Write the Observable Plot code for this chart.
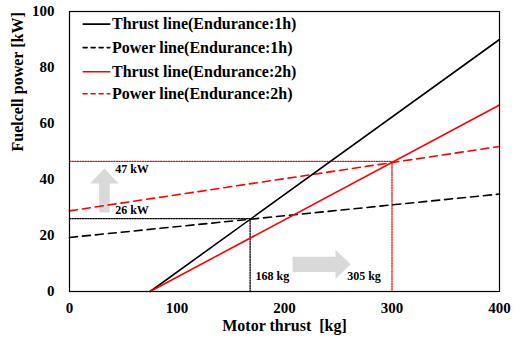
<!DOCTYPE html>
<html>
<head>
<meta charset="utf-8">
<script src="https://cdn.jsdelivr.net/npm/d3@7"></script>
<script src="https://cdn.jsdelivr.net/npm/@observablehq/plot@0.6"></script>
<style>
  html, body { margin: 0; padding: 0; background: #fff; }
  #chart svg { display: block; }
</style>
</head>
<body>
<div id="chart"></div>
<script>
// ---- data ----
const seriesNames = [
  "Thrust line(Endurance:1h)",
  "Power line(Endurance:1h)",
  "Thrust line(Endurance:2h)",
  "Power line(Endurance:2h)"
];
const thrust1hX = [75, 400], thrust1hY = [0, 90];
const power1hX = [0, 400],   power1hY = [19.3, 34.8];
const thrust2hX = [75, 400], thrust2hY = [0, 66.6];
const power2hX = [0, 400],   power2hY = [28.8, 51.8];

const markerThrust = [168, 300];     // dotted vertical markers (kg)
const markerPower = [26, 46.5];      // dotted horizontal markers (kW)
const markerLabelsPower = ["26 kW", "47 kW"];
const markerLabelsThrust = ["168 kg", "305 kg"];

const xTicks = [0, 100, 200, 300, 400];
const yTicks = [0, 20, 40, 60, 80, 100];

const RED = "#ff0000", BLACK = "#000000", GRAY = "#d9d9d9";
const FONT = "'Liberation Serif', 'Times New Roman', serif";

const toPts = (xs, ys) => xs.map((x, i) => ({x, y: ys[i]}));

// block arrows (data units)
function upArrow(cx, y0, y1, yh, sw, hw) {
  return [[cx - sw, y0], [cx - sw, yh], [cx - hw, yh], [cx, y1], [cx + hw, yh], [cx + sw, yh], [cx + sw, y0], [cx - sw, y0]]
    .map(([x, y]) => ({x, y}));
}
function rightArrow(cy, x0, x1, xh, sh, hh) {
  return [[x0, cy - sh], [xh, cy - sh], [xh, cy - hh], [x1, cy], [xh, cy + hh], [xh, cy + sh], [x0, cy + sh], [x0, cy - sh]]
    .map(([x, y]) => ({x, y}));
}
const arrowUp = upArrow(32.5, 28.2, 43.9, 38.6, 4.9, 13.3);
const arrowRight = rightArrow(9.7, 207.5, 261.5, 247.5, 2.7, 5.2);

// legend rows
const legendY = [95.5, 87.1, 78.5, 70.6];
const legendStroke = [BLACK, BLACK, RED, RED];
const legendDash = [null, "4,4", null, "4,4"];

const marks = [
  Plot.line(arrowRight, {x: "x", y: "y", fill: GRAY, stroke: "none"}),
  Plot.line(arrowUp, {x: "x", y: "y", fill: GRAY, stroke: "none"}),
  // dotted markers
  Plot.line([{x: 0, y: markerPower[0]}, {x: markerThrust[0], y: markerPower[0]}, {x: markerThrust[0], y: 0}],
    {x: "x", y: "y", stroke: BLACK, strokeWidth: 1.3, strokeDasharray: "1.3,1.3"}),
  Plot.line([{x: 0, y: markerPower[1]}, {x: markerThrust[1], y: markerPower[1]}, {x: markerThrust[1], y: 0}],
    {x: "x", y: "y", stroke: RED, strokeWidth: 1.3, strokeDasharray: "1.3,1.3"}),
  // series
  Plot.line(toPts(power1hX, power1hY), {x: "x", y: "y", stroke: BLACK, strokeWidth: 1.6, strokeDasharray: "8,5"}),
  Plot.line(toPts(power2hX, power2hY), {x: "x", y: "y", stroke: RED, strokeWidth: 1.6, strokeDasharray: "8,5"}),
  Plot.line(toPts(thrust1hX, thrust1hY), {x: "x", y: "y", stroke: BLACK, strokeWidth: 1.6}),
  Plot.line(toPts(thrust2hX, thrust2hY), {x: "x", y: "y", stroke: RED, strokeWidth: 1.6}),
  // marker labels
  Plot.text(markerLabelsPower, {x: () => 42.5, y: (d, i) => markerPower[i] + (i === 0 ? 3 : -2.9),
    text: d => d, textAnchor: "start", fontSize: 12, fontWeight: "bold", fill: BLACK}),
  Plot.text(markerLabelsThrust, {x: (d, i) => (i === 0 ? 173 : 258.3), y: () => 5.6,
    text: d => d, textAnchor: "start", fontSize: 12, fontWeight: "bold", fill: BLACK}),
  // legend
  ...seriesNames.map((name, i) => Plot.line([{x: 12.7, y: legendY[i]}, {x: 37.5, y: legendY[i]}],
    {x: "x", y: "y", stroke: legendStroke[i], strokeWidth: 1.6, strokeDasharray: legendDash[i] || undefined})),
  Plot.text(seriesNames, {x: () => 39.5, y: (d, i) => legendY[i], text: d => d,
    textAnchor: "start", fontSize: 16, fontWeight: "bold", fill: BLACK, letterSpacing: "0.2px"}),
  // axes
  Plot.axisX({ticks: xTicks, tickSize: 0, tickPadding: 11, fontSize: 15, fontWeight: "bold", label: null}),
  Plot.axisY({ticks: yTicks, tickSize: 0, tickPadding: 15, fontSize: 15, fontWeight: "bold", label: null}),
  Plot.text(["Motor thrust\u00a0\u00a0[kg]"], {frameAnchor: "bottom", dy: 39.5, fontSize: 16, fontWeight: "bold", fill: BLACK}),
  Plot.text(["Fuelcell power [kW]"], {frameAnchor: "left", dx: -52, rotate: -90, fontSize: 16, fontWeight: "bold", fill: BLACK}),
  Plot.frame({stroke: BLACK, strokeWidth: 1.2})
];

const chart = Plot.plot({
  width: 518,
  height: 339,
  marginLeft: 69,
  marginRight: 19,
  marginTop: 11,
  marginBottom: 48,
  x: {domain: [0, 400]},
  y: {domain: [0, 100]},
  style: {fontFamily: FONT, color: BLACK, background: "#fff", overflow: "visible"},
  marks
});
document.getElementById("chart").appendChild(chart);
</script>
</body>
</html>
